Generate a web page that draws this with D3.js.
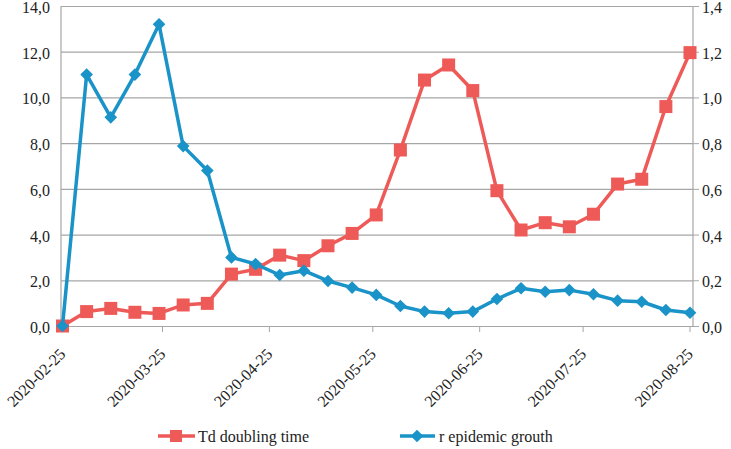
<!DOCTYPE html>
<html><head><meta charset="utf-8">
<script src="https://cdn.jsdelivr.net/npm/d3@7"></script>
<style>body{margin:0;background:#fff}svg{display:block}</style>
</head><body><svg id="c" width="731" height="449"></svg>
<script>
const startDate = "2020-02-25";
const weeks = 27;
const tdValues = [0.0,0.63,0.77,0.6,0.55,0.92,0.99,2.27,2.48,3.1,2.86,3.51,4.05,4.86,7.7,10.76,11.42,10.3,5.92,4.2,4.52,4.34,4.89,6.21,6.42,9.6,11.96];
const rValues = [0.0,1.10,0.913,1.10,1.32,0.787,0.68,0.30,0.271,0.223,0.242,0.197,0.168,0.136,0.0875,0.063,0.056,0.063,0.118,0.165,0.15,0.157,0.139,0.111,0.106,0.070,0.058];
const tickDates = ["2020-02-25","2020-03-25","2020-04-25","2020-05-25","2020-06-25","2020-07-25","2020-08-25"];
const leftTicks = [0,2,4,6,8,10,12,14];
const rightTicks = [0,0.2,0.4,0.6,0.8,1.0,1.2,1.4];
const seriesNames = ["Td doubling time","r epidemic grouth"];
const red = "#EE5A57", blue = "#1A93C8";
const FONT = "Liberation Serif, Times New Roman, Tinos, Noto Serif, DejaVu Serif, serif";

const parse = d3.utcParse("%Y-%m-%d");
const t0 = parse(startDate);
const dates = d3.range(weeks).map(i => d3.utcDay.offset(t0, i*7));
const svg = d3.select("#c");
const x = d3.scaleUtc().domain([t0, dates[dates.length-1]]).range([62.5, 690]);
const yL = d3.scaleLinear().domain([0,14]).range([326,6]);
const yR = d3.scaleLinear().domain([0,1.4]).range([326,6]);
const fmt = v => d3.format(".1f")(v).replace(".", ",");

svg.append("g").selectAll("line").data(leftTicks).join("line")
  .attr("x1",61).attr("x2",693).attr("y1",d=>yL(d)+0.5).attr("y2",d=>yL(d)+0.5)
  .attr("stroke","#a6a6a6").attr("stroke-width",1.2);
svg.append("line").attr("x1",61).attr("x2",61).attr("y1",6).attr("y2",326).attr("stroke","#a6a6a6").attr("stroke-width",1.2);
svg.append("line").attr("x1",693).attr("x2",693).attr("y1",6).attr("y2",326).attr("stroke","#a6a6a6").attr("stroke-width",1.2);
svg.append("g").selectAll("line").data(leftTicks).join("line")
  .attr("x1",693).attr("x2",699).attr("y1",d=>yL(d)+0.5).attr("y2",d=>yL(d)+0.5).attr("stroke","#a6a6a6");
svg.append("g").selectAll("line").data(tickDates).join("line")
  .attr("x1",d=>x(parse(d))).attr("x2",d=>x(parse(d))).attr("y1",326).attr("y2",332).attr("stroke","#a6a6a6");

const T = sel => sel.style("font-family",FONT).attr("fill","#222").attr("font-size",16);
svg.append("g").selectAll("text").data(leftTicks).join("text")
  .attr("x",50).attr("y",d=>yL(d)+7).attr("text-anchor","end").call(T).text(fmt);
svg.append("g").selectAll("text").data(rightTicks).join("text")
  .attr("x",702).attr("y",d=>yR(d)+7).attr("text-anchor","start").call(T).text(fmt);
svg.append("g").selectAll("text").data(tickDates).join("text")
  .attr("transform",d=>`translate(${x(parse(d))+4},${355}) rotate(-45)`)
  .attr("text-anchor","end").call(T).text(d=>d);

const lineL = d3.line().x((d,i)=>x(dates[i])).y(d=>yL(d));
const lineR = d3.line().x((d,i)=>x(dates[i])).y(d=>yR(d));
svg.append("path").attr("d",lineL(tdValues)).attr("fill","none").attr("stroke",red).attr("stroke-width",3.5).attr("stroke-linejoin","round");
svg.append("g").selectAll("rect").data(tdValues).join("rect")
  .attr("x",(d,i)=>x(dates[i])-6.5).attr("y",d=>yL(d)-6.5).attr("width",13).attr("height",13).attr("fill",red);
svg.append("path").attr("d",lineR(rValues)).attr("fill","none").attr("stroke",blue).attr("stroke-width",3.5).attr("stroke-linejoin","round");
const diamond = d3.symbol().type(d3.symbolSquare).size(80);
svg.append("g").selectAll("path").data(rValues).join("path")
  .attr("d",diamond).attr("transform",(d,i)=>`translate(${x(dates[i])},${yR(d)}) rotate(45)`).attr("fill",blue);

const lg = svg.append("g");
lg.append("line").attr("x1",158).attr("x2",195).attr("y1",436).attr("y2",436).attr("stroke",red).attr("stroke-width",3.5);
lg.append("rect").attr("x",170).attr("y",430).attr("width",12).attr("height",12).attr("fill",red);
lg.append("text").attr("x",198).attr("y",442).call(T).text(seriesNames[0]);
lg.append("line").attr("x1",400).attr("x2",435).attr("y1",436).attr("y2",436).attr("stroke",blue).attr("stroke-width",3.5);
lg.append("path").attr("d",diamond).attr("transform","translate(417,436) rotate(45)").attr("fill",blue);
lg.append("text").attr("x",439).attr("y",442).call(T).text(seriesNames[1]);
</script></body></html>
